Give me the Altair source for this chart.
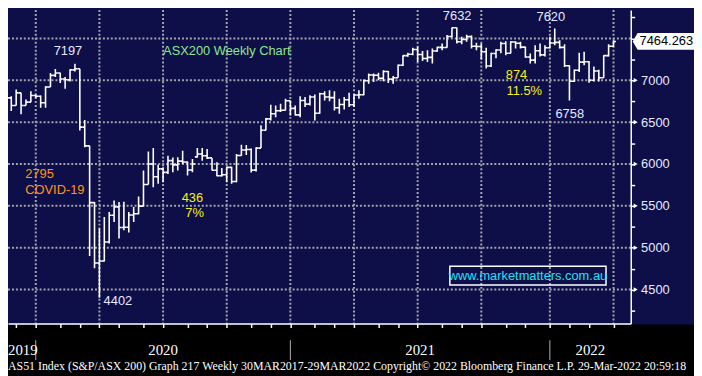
import altair as alt
import pandas as pd

# ---------------- data (weekly OHLC, S&P/ASX 200) ----------------
first_week = "2019-11-08"
opens = [6672, 6719, 6790, 6700, 6850, 6700, 6739, 6818, 6810, 6731,
         6921, 7059, 7087, 7016, 7006, 7125, 7139, 6441, 6217, 5539,
         4817, 4842, 5068, 5387, 5488, 5242, 5245, 5391, 5405, 5497,
         5755, 6000, 5847, 5942, 5900, 6040, 5990, 6034, 6024, 5928,
         6085, 6119, 6099, 6073, 5925, 5859, 5871, 5960, 5791, 6102,
         6168, 6174, 5927, 6190, 6404, 6539, 6601, 6636, 6642, 6756,
         6665, 6587, 6758, 6715, 6800, 6607, 6840, 6800, 6793, 6673,
         6711, 6767, 6708, 6824, 6828, 6995, 7063, 7061, 7025, 7105,
         7014, 7030, 7179, 7295, 7312, 7369, 7308, 7260, 7274, 7350,
         7393, 7392, 7523, 7628, 7461, 7488, 7522, 7406, 7403, 7342,
         7170, 7320, 7362, 7440, 7324, 7457, 7443, 7396, 7279, 7241,
         7353, 7304, 7388, 7445, 7453, 7393, 7173, 6988, 7121, 7217,
         7221, 7000, 7111, 7030, 7295, 7406]
highs = [6731, 6790, 6810, 6889, 6850, 6771, 6870, 6830, 6818, 6929,
         7087, 7134, 7090, 7040, 7132, 7197, 7139, 6526, 6217, 5545,
         5229, 5367, 5427, 5565, 5545, 5550, 5427, 5486, 5612, 5921,
         6150, 6190, 5992, 5960, 6099, 6079, 6080, 6158, 6030, 6059,
         6190, 6190, 6178, 6073, 6020, 5953, 5968, 5968, 6119, 6229,
         6227, 6185, 6200, 6464, 6551, 6709, 6700, 6720, 6780, 6760,
         6700, 6810, 6800, 6820, 6830, 6850, 6870, 6880, 6870, 6780,
         6800, 6850, 6830, 6880, 7010, 7080, 7080, 7090, 7120, 7110,
         7050, 7190, 7300, 7330, 7390, 7400, 7350, 7360, 7380, 7400,
         7440, 7540, 7630, 7632, 7520, 7545, 7535, 7450, 7440, 7390,
         7330, 7370, 7460, 7468, 7468, 7468, 7460, 7400, 7320, 7420,
         7440, 7420, 7520, 7620, 7480, 7430, 7180, 7130, 7330, 7340,
         7230, 7165, 7125, 7300, 7430, 7480]
lows = [6660, 6711, 6632, 6700, 6593, 6700, 6739, 6790, 6672, 6672,
        6921, 7040, 6968, 6899, 6986, 7105, 6400, 6200, 4900, 4755,
        4402, 4834, 5051, 5308, 5111, 5209, 5182, 5308, 5399, 5497,
        5755, 5723, 5763, 5783, 5880, 5901, 5921, 6000, 5862, 5901,
        6079, 6040, 6059, 5921, 5855, 5850, 5783, 5763, 5783, 6099,
        6108, 5899, 5911, 6190, 6401, 6520, 6560, 6620, 6640, 6580,
        6580, 6560, 6680, 6700, 6520, 6600, 6760, 6750, 6640, 6600,
        6650, 6680, 6680, 6780, 6820, 6960, 6980, 7000, 6990, 6967,
        6960, 7030, 7170, 7280, 7300, 7220, 7230, 7220, 7200, 7340,
        7360, 7390, 7510, 7440, 7430, 7460, 7380, 7360, 7250, 7140,
        7160, 7263, 7322, 7300, 7320, 7380, 7380, 7270, 7200, 7200,
        7283, 7283, 7380, 7420, 7380, 7160, 6758, 6980, 7100, 7180,
        6970, 6986, 6986, 7030, 7283, 7400]
closes = [6719, 6790, 6700, 6850, 6700, 6739, 6818, 6810, 6731, 6921,
          7059, 7087, 7016, 7006, 7125, 7139, 6441, 6217, 5539, 4817,
          4842, 5068, 5387, 5488, 5242, 5245, 5391, 5405, 5497, 5755,
          6000, 5847, 5942, 5900, 6040, 5990, 6034, 6024, 5928, 6000,
          6119, 6099, 6073, 5925, 5859, 5871, 5960, 5791, 6102, 6168,
          6174, 5927, 6190, 6404, 6539, 6601, 6636, 6642, 6756, 6665,
          6587, 6758, 6715, 6800, 6607, 6840, 6800, 6793, 6673, 6711,
          6767, 6708, 6824, 6828, 6995, 7063, 7061, 7025, 7105, 7014,
          7030, 7179, 7295, 7312, 7369, 7308, 7260, 7274, 7350, 7393,
          7392, 7523, 7628, 7461, 7488, 7522, 7406, 7403, 7342, 7170,
          7320, 7362, 7440, 7324, 7457, 7443, 7396, 7279, 7241, 7353,
          7304, 7388, 7445, 7453, 7393, 7173, 6988, 7121, 7217, 7221,
          7000, 7111, 7030, 7295, 7406, 7464.263]

last_price = 7464.263
last_label = "7464.263"

y_grid_levels = [4500, 5000, 5500, 6000, 6500, 7000, 7500]
y_tick_values = [4250, 4500, 4750, 5000, 5250, 5500, 5750, 6000, 6250, 6500,
                 6750, 7000, 7250, 7500, 7750]
y_labelled = [4500, 5000, 5500, 6000, 6500, 7000]

quarter_lines = ["2019-12-27", "2020-03-27", "2020-06-26", "2020-09-25", "2020-12-25",
                 "2021-03-26", "2021-06-25", "2021-09-24", "2021-12-31", "2022-04-01"]
month_ticks = ["2019-11-29", "2019-12-27", "2020-01-31", "2020-02-28", "2020-03-27",
               "2020-04-24", "2020-05-29", "2020-06-26", "2020-07-31", "2020-08-28",
               "2020-09-25", "2020-10-30", "2020-11-27", "2020-12-25", "2021-01-29",
               "2021-02-26", "2021-03-26", "2021-04-30", "2021-05-28", "2021-06-25",
               "2021-07-30", "2021-08-27", "2021-09-24", "2021-10-29", "2021-11-26",
               "2021-12-31", "2022-01-28", "2022-02-25", "2022-04-01"]
year_breaks = ["2019-12-27", "2020-12-25", "2021-12-31"]
year_labels = ["2020", "2021", "2022"]
year_first = "2019"

ann_labels = ["7197", "436", "7%", "ASX200 Weekly Chart", "2795", "COVID-19", "4402",
              "7632", "7620", "874", "11.5%", "6758"]
ann_dates = ["2020-02-11", "2020-08-07", "2020-08-10", "2020-06-26", "2019-12-12",
             "2019-12-12", "2020-04-02", "2021-07-31", "2021-12-12", "2021-10-29",
             "2021-10-30", "2022-01-08"]
ann_values = [7354, 5595, 5412, 7354, 5878, 5683, 4366, 7762, 7760, 7065, 6870, 6598]
ann_colors = ["#e4ebff", "#f2f21e", "#f2f21e", "#8be88b", "#ff9419", "#ff9419", "#e4ebff",
              "#e4ebff", "#e4ebff", "#f2f21e", "#f2f21e", "#e4ebff"]
ann_align = ["center", "center", "center", "left", "left", "left", "left",
             "left", "left", "left", "left", "left"]

watermark = "www.marketmatters.com.au"
footer = ("AS51 Index (S&P/ASX 200) Graph 217  Weekly 30MAR2017-29MAR2022  "
          "Copyright\u00a9 2022 Bloomberg Finance L.P. 29-Mar-2022 20:59:18")

# ---------------- layout / style ----------------
NAVY = "#0e0e48"
GRID = "#a4a4ac"
FONT = "Liberation Sans"
NARROW = "Liberation Sans Narrow"
W, H = 630, 317
DAY0 = pd.Timestamp("2019-11-06")
PXD = 0.7076  # pixels per day in the reference

x_scale = alt.Scale(domain=[8 / PXD, 638 / PXD], nice=False, zero=False)
y_scale = alt.Scale(domain=[4095, 7838.5], nice=False, zero=False)


def days(lst):
    return [float(d) for d in (pd.to_datetime(lst) - DAY0).days]


week_dates = pd.date_range(first_week, periods=len(closes), freq="7D")
bars = pd.DataFrame({"t": days(week_dates), "o": opens, "h": highs, "l": lows, "c": closes})
bars["tl"] = bars["t"] - 3.5
bars["tr"] = bars["t"] + 3.5

x_axis = alt.Axis(values=days(month_ticks), labels=False, title=None, grid=False,
                  tickSize=4, tickColor="white", tickWidth=1.5, domainColor="white",
                  domainWidth=1.5, orient="bottom", zindex=1)
y_axis = alt.Axis(orient="right", values=y_tick_values, format="d",
                  labelExpr="(datum.value % 500 == 0 && datum.value <= 7000) ? datum.label : ''",
                  title=None, grid=False, tickSize=4, tickColor="white", tickWidth=1.5,
                  domainColor="white", domainWidth=1.5, labelColor="#e4ebff", labelFont=FONT,
                  labelFontSize=13, labelPadding=6, labelOverlap=False, labelFlush=False,
                  labelBaseline="middle", zindex=1)


def X(f):
    return alt.X(f, type="quantitative", scale=x_scale, axis=x_axis)


def Y(f):
    return alt.Y(f, type="quantitative", scale=y_scale, axis=y_axis)


one = pd.DataFrame({"a": [0]})

strip = alt.Chart(one).mark_rect(color="black").encode(
    x=alt.value(-10), x2=alt.value(W + 80), y=alt.value(H + 1), y2=alt.value(H + 70))

grid_style = dict(color=GRID, strokeWidth=2, strokeDash=[2, 2])
hgrid = alt.Chart(pd.DataFrame({"v": y_grid_levels})).mark_rule(**grid_style).encode(y=Y("v"))
vgrid = alt.Chart(pd.DataFrame({"t": days(quarter_lines)})).mark_rule(**grid_style).encode(x=X("t"))

bar_style = dict(color="white", strokeWidth=1.6, clip=True)
hl = alt.Chart(bars).mark_rule(**bar_style).encode(x=X("t"), y=Y("l"), y2="h")
op = alt.Chart(bars).mark_rule(**bar_style).encode(x=X("tl"), x2="t", y=Y("o"))
cl = alt.Chart(bars).mark_rule(**bar_style).encode(x=X("t"), x2="tr", y=Y("c"))

ann = pd.DataFrame({"label": ann_labels, "t": days(ann_dates), "v": ann_values,
                    "col": ann_colors, "align": ann_align})
ann_layers = []
for al in ["center", "left"]:
    ann_layers.append(
        alt.Chart(ann[ann["align"] == al]).mark_text(
            align=al, baseline="middle", font=FONT, fontSize=13).encode(
            x=X("t"), y=Y("v"), text="label:N", color=alt.Color("col:N", scale=None)))

tri = alt.Chart(pd.DataFrame({"v": y_labelled})).mark_point(
    shape="triangle-right", filled=True, size=22, color="white", opacity=1).encode(
    x=alt.value(W + 5), y=Y("v"))

PATH = "M -1 0 L -0.84 -0.275 L 1 -0.275 L 1 0.275 L -0.84 0.275 Z"
price_df = pd.DataFrame({"v": [last_price], "lbl": [last_label]})
pbox = alt.Chart(price_df).mark_point(
    shape=PATH, filled=True, size=62 * 62, color="white", opacity=1).encode(
    x=alt.value(W + 2 + 31), y=Y("v"))
ptxt = alt.Chart(price_df).mark_text(
    color="black", font=FONT, fontSize=13, align="center", baseline="middle").encode(
    x=alt.value(666), y=Y("v"), text="lbl:N")

wm_box = alt.Chart(one).mark_rect(fillOpacity=0, stroke="white", strokeWidth=1.5).encode(
    x=alt.value(447), x2=alt.value(605), y=alt.value(259), y2=alt.value(278))
wm_txt = alt.Chart(pd.DataFrame({"s": [watermark]})).mark_text(
    color="#1ee3f5", font=FONT, fontSize=13, align="center", baseline="middle").encode(
    x=alt.value(526), y=alt.value(269), text="s:N")

yb = days(year_breaks)
ends = yb[1:] + [638 / PXD]
years_df = pd.DataFrame({"label": year_labels, "t": [(a + b) / 2 for a, b in zip(yb, ends)]})
sep = alt.Chart(pd.DataFrame({"t": yb})).mark_rule(color="#b0b0b0", strokeWidth=1).encode(
    x=X("t"), y=alt.value(H + 17), y2=alt.value(H + 37))
yr = alt.Chart(years_df).mark_text(
    color="white", font=NARROW, fontSize=15, align="center", baseline="middle").encode(
    x=X("t"), y=alt.value(H + 27), text="label:N")
yr0 = alt.Chart(pd.DataFrame({"s": [year_first]})).mark_text(
    color="white", font=NARROW, fontSize=15, align="left", baseline="middle").encode(
    x=alt.value(0), y=alt.value(H + 27), text="s:N")
foot = alt.Chart(pd.DataFrame({"s": [footer]})).mark_text(
    color="white", font=NARROW, fontSize=12, align="left", baseline="middle").encode(
    x=alt.value(0), y=alt.value(H + 43), text="s:N")

chart = alt.layer(
    strip, hgrid, vgrid, hl, op, cl, *ann_layers, wm_box, wm_txt, tri, pbox, ptxt,
    sep, yr, yr0, foot
).properties(
    width=W, height=H,
    autosize=alt.AutoSizeParams(type="none"),
    padding={"left": 0, "top": 0, "right": 64, "bottom": 51},
    background=NAVY,
).configure_view(strokeOpacity=0, fill=NAVY)

chart.save("out.html", embed_options={"renderer": "svg", "actions": False})
